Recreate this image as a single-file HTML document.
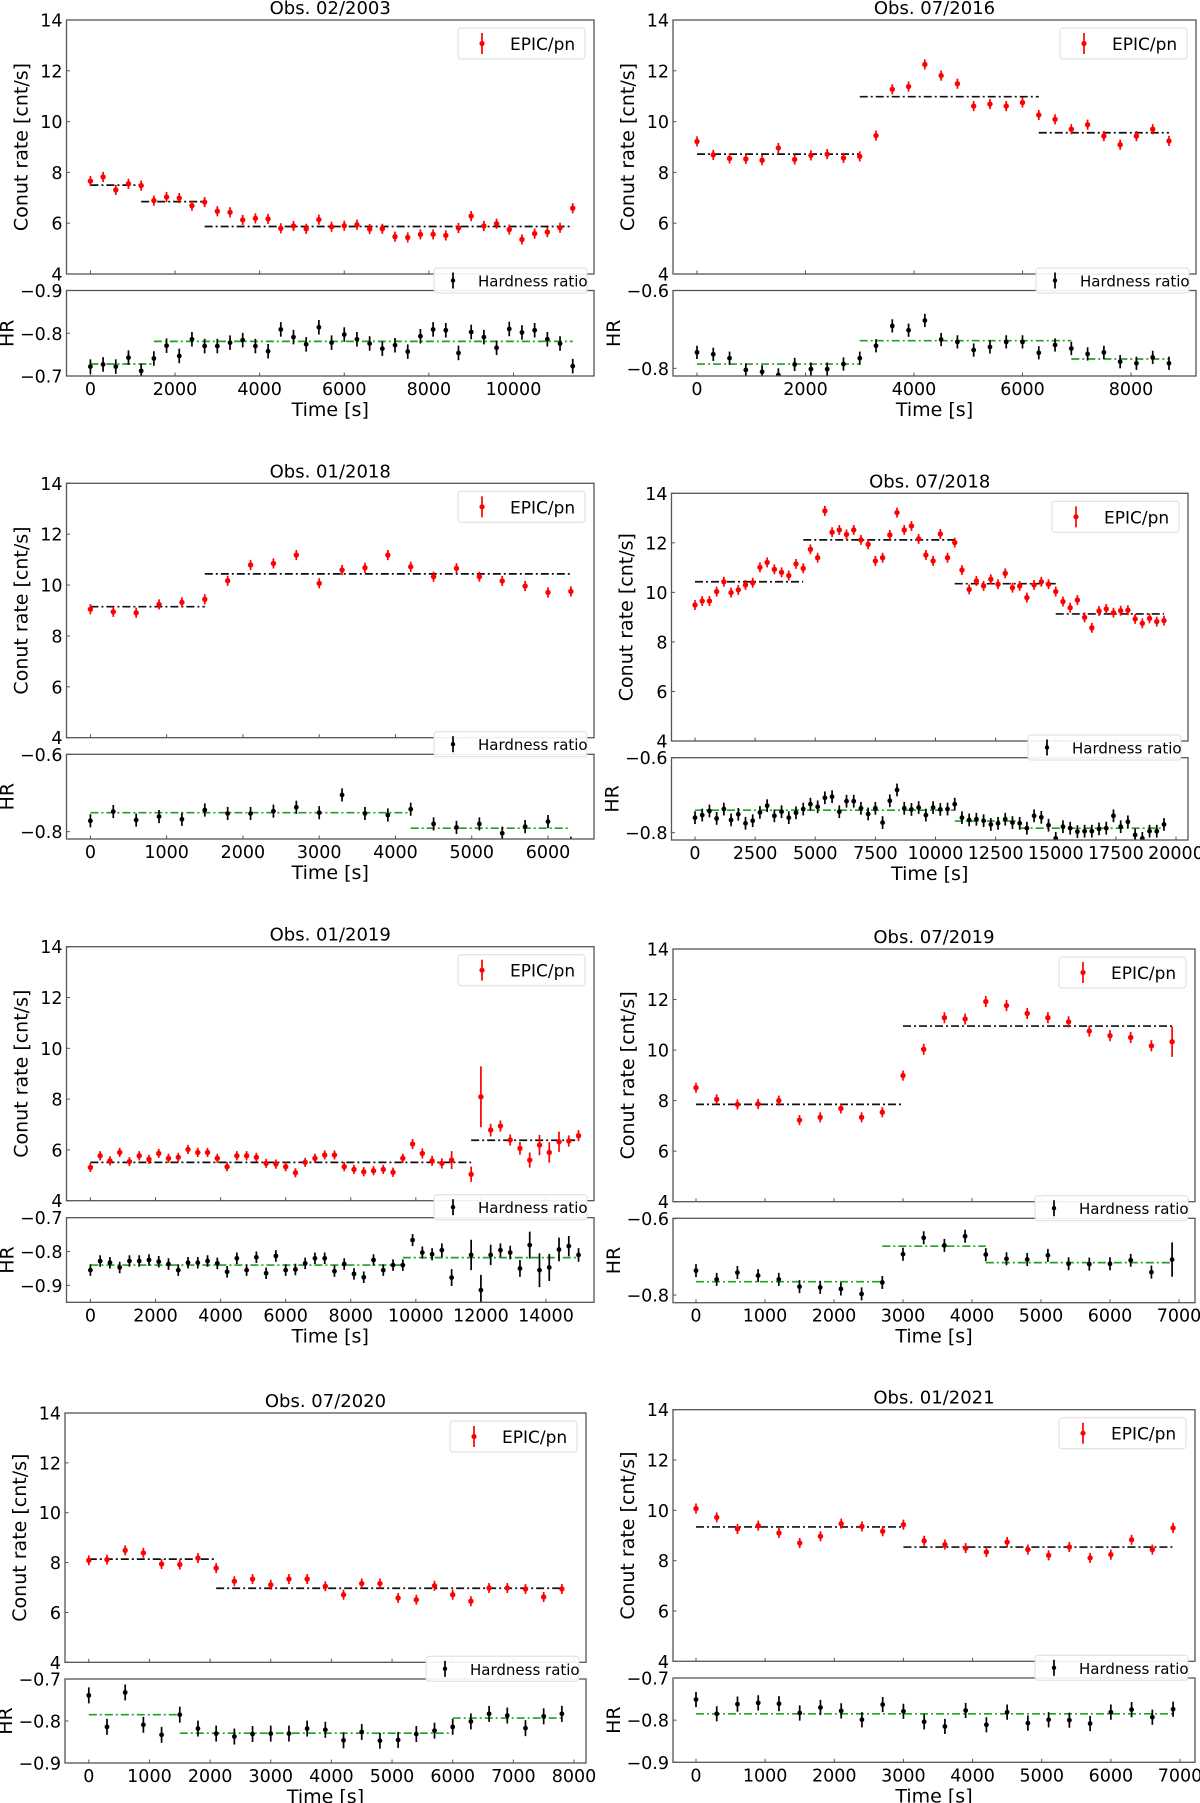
<!DOCTYPE html>
<html><head><meta charset="utf-8"><title>Light curves and hardness ratios</title>
<style>
html,body{margin:0;padding:0;background:#fff;}
svg{display:block;font-family:"DejaVu Sans","Liberation Sans",sans-serif;}
</style></head>
<body>
<svg id="fig" width="1200" height="1803" viewBox="0 0 1200 1803" xmlns="http://www.w3.org/2000/svg"></svg>
<script>
// ---------- shared tick data ----------
const rateTicks = [4,6,8,10,12,14];
const rateTickLabels = ["4","6","8","10","12","14"];

// ---------- Panel 1: Obs. 02/2003 ----------
const p1_time = [0,300,600,900,1200,1500,1800,2100,2400,2700,3000,3300,3600,3900,4200,4500,4800,5100,5400,5700,6000,6300,6600,6900,7200,7500,7800,8100,8400,8700,9000,9300,9600,9900,10200,10500,10800,11100,11400];
const p1_rate = [7.66,7.82,7.31,7.55,7.48,6.89,7.03,6.99,6.69,6.83,6.47,6.43,6.13,6.19,6.17,5.80,5.89,5.78,6.14,5.86,5.90,5.94,5.77,5.78,5.47,5.44,5.56,5.56,5.52,5.81,6.28,5.89,5.98,5.75,5.36,5.59,5.65,5.82,6.59];
const p1_hr = [-0.722,-0.727,-0.722,-0.743,-0.712,-0.741,-0.771,-0.747,-0.786,-0.770,-0.770,-0.778,-0.784,-0.770,-0.758,-0.809,-0.791,-0.774,-0.814,-0.778,-0.797,-0.786,-0.776,-0.764,-0.772,-0.757,-0.793,-0.809,-0.807,-0.754,-0.803,-0.791,-0.766,-0.810,-0.802,-0.807,-0.786,-0.776,-0.723];
const p1_rfStart = [0,1200,2700], p1_rfEnd = [1200,2700,11400], p1_rfVal = [7.5,6.85,5.87];
const p1_hfStart = [0,1500], p1_hfEnd = [1500,11400], p1_hfVal = [-0.728,-0.781];
const p1_xticks = [0,2000,4000,6000,8000,10000];
const p1_xtickLabels = ["0","2000","4000","6000","8000","10000"];
const p1_hrTicks = [-0.9,-0.8,-0.7];
const p1_hrTickLabels = ["\u22120.9","\u22120.8","\u22120.7"];

// ---------- Panel 2: Obs. 07/2016 ----------
const p2_time = [0,300,600,900,1200,1500,1800,2100,2400,2700,3000,3300,3600,3900,4200,4500,4800,5100,5400,5700,6000,6300,6600,6900,7200,7500,7800,8100,8400,8700];
const p2_rate = [9.22,8.69,8.55,8.53,8.48,8.96,8.51,8.67,8.72,8.57,8.63,9.45,11.27,11.38,12.25,11.81,11.49,10.61,10.69,10.61,10.75,10.26,10.09,9.70,9.88,9.43,9.09,9.43,9.70,9.24];
const p2_hr = [-0.759,-0.764,-0.774,-0.804,-0.809,-0.817,-0.790,-0.802,-0.802,-0.789,-0.774,-0.742,-0.691,-0.702,-0.677,-0.726,-0.732,-0.753,-0.745,-0.732,-0.732,-0.760,-0.740,-0.749,-0.763,-0.759,-0.783,-0.787,-0.772,-0.787];
const p2_rfStart = [0,3000,6300], p2_rfEnd = [3000,6300,8700], p2_rfVal = [8.72,10.98,9.56];
const p2_hfStart = [0,3000,6900], p2_hfEnd = [3000,6900,8700], p2_hfVal = [-0.789,-0.729,-0.776];
const p2_xticks = [0,2000,4000,6000,8000];
const p2_xtickLabels = ["0","2000","4000","6000","8000"];
const p2_hrTicks = [-0.6,-0.8];
const p2_hrTickLabels = ["\u22120.6","\u22120.8"];

// ---------- Panel 3: Obs. 01/2018 ----------
const p3_time = [0,300,600,900,1200,1500,1800,2100,2400,2700,3000,3300,3600,3900,4200,4500,4800,5100,5400,5700,6000,6300];
const p3_rate = [9.05,8.95,8.91,9.24,9.32,9.44,10.17,10.79,10.85,11.18,10.07,10.59,10.68,11.18,10.72,10.33,10.66,10.33,10.16,9.96,9.71,9.75];
const p3_hr = [-0.772,-0.748,-0.770,-0.761,-0.768,-0.744,-0.753,-0.753,-0.747,-0.737,-0.751,-0.705,-0.753,-0.757,-0.742,-0.780,-0.789,-0.780,-0.804,-0.787,-0.774,-0.830];
const p3_rfStart = [0,1500], p3_rfEnd = [1500,6300], p3_rfVal = [9.15,10.44];
const p3_hfStart = [0,4200], p3_hfEnd = [4200,6300], p3_hfVal = [-0.751,-0.791];
const p3_xticks = [0,1000,2000,3000,4000,5000,6000];
const p3_xtickLabels = ["0","1000","2000","3000","4000","5000","6000"];
const p3_hrTicks = [-0.6,-0.8];
const p3_hrTickLabels = ["\u22120.6","\u22120.8"];

// ---------- Panel 4: Obs. 07/2018 ----------
const p4_time = [0,300,600,900,1200,1500,1800,2100,2400,2700,3000,3300,3600,3900,4200,4500,4800,5100,5400,5700,6000,6300,6600,6900,7200,7500,7800,8100,8400,8700,9000,9300,9600,9900,10200,10500,10800,11100,11400,11700,12000,12300,12600,12900,13200,13500,13800,14100,14400,14700,15000,15300,15600,15900,16200,16500,16800,17100,17400,17700,18000,18300,18600,18900,19200,19500];
const p4_rate = [9.49,9.65,9.65,10.03,10.43,9.99,10.10,10.30,10.39,11.01,11.21,10.93,10.81,10.68,11.15,10.97,11.74,11.40,13.29,12.43,12.52,12.34,12.52,12.12,11.94,11.27,11.40,12.32,13.22,12.52,12.68,12.16,11.51,11.27,12.36,11.40,12.01,10.90,10.12,10.46,10.26,10.53,10.33,10.77,10.19,10.26,9.79,10.30,10.43,10.33,10.03,9.63,9.38,9.69,8.99,8.57,9.25,9.33,9.18,9.26,9.28,8.93,8.75,8.95,8.82,8.86];
const p4_hr = [-0.760,-0.753,-0.742,-0.762,-0.737,-0.766,-0.751,-0.775,-0.768,-0.746,-0.728,-0.755,-0.744,-0.760,-0.747,-0.737,-0.724,-0.731,-0.707,-0.704,-0.744,-0.716,-0.716,-0.735,-0.750,-0.735,-0.773,-0.715,-0.686,-0.735,-0.738,-0.733,-0.753,-0.733,-0.738,-0.737,-0.724,-0.760,-0.766,-0.764,-0.768,-0.778,-0.775,-0.764,-0.773,-0.775,-0.788,-0.755,-0.759,-0.780,-0.815,-0.784,-0.788,-0.797,-0.796,-0.796,-0.790,-0.788,-0.755,-0.784,-0.771,-0.806,-0.815,-0.796,-0.796,-0.778];
const p4_rfStart = [0,4500,10800,15000], p4_rfEnd = [4500,10800,15000,19500], p4_rfVal = [10.43,12.12,10.35,9.13];
const p4_hfStart = [0,10800,13500], p4_hfEnd = [10800,13500,19500], p4_hfVal = [-0.740,-0.769,-0.788];
const p4_xticks = [0,2500,5000,7500,10000,12500,15000,17500,20000];
const p4_xtickLabels = ["0","2500","5000","7500","10000","12500","15000","17500","20000"];
const p4_hrTicks = [-0.6,-0.8];
const p4_hrTickLabels = ["\u22120.6","\u22120.8"];

// ---------- Panel 5: Obs. 01/2019 ----------
const p5_time = [0,300,600,900,1200,1500,1800,2100,2400,2700,3000,3300,3600,3900,4200,4500,4800,5100,5400,5700,6000,6300,6600,6900,7200,7500,7800,8100,8400,8700,9000,9300,9600,9900,10200,10500,10800,11100,11700,12000,12300,12600,12900,13200,13500,13800,14100,14400,14700,15000];
const p5_rate = [5.31,5.77,5.57,5.90,5.54,5.77,5.63,5.86,5.67,5.71,6.02,5.90,5.90,5.67,5.34,5.77,5.77,5.71,5.47,5.44,5.34,5.10,5.51,5.67,5.80,5.80,5.34,5.23,5.14,5.18,5.23,5.12,5.67,6.23,5.86,5.57,5.47,5.60,5.04,8.09,6.78,6.94,6.39,6.06,5.60,6.19,5.90,6.32,6.35,6.56];
const p5_rateErr = [0.18,0.18,0.18,0.18,0.18,0.18,0.18,0.18,0.18,0.18,0.18,0.18,0.18,0.18,0.18,0.18,0.18,0.18,0.18,0.18,0.18,0.18,0.18,0.18,0.18,0.18,0.18,0.18,0.18,0.18,0.18,0.18,0.18,0.2,0.2,0.2,0.2,0.35,0.3,1.2,0.25,0.22,0.22,0.25,0.3,0.4,0.4,0.4,0.22,0.22];
const p5_hr = [-0.855,-0.828,-0.833,-0.847,-0.828,-0.828,-0.825,-0.830,-0.837,-0.855,-0.833,-0.833,-0.828,-0.835,-0.860,-0.820,-0.855,-0.817,-0.864,-0.813,-0.855,-0.853,-0.835,-0.820,-0.820,-0.858,-0.837,-0.866,-0.876,-0.825,-0.855,-0.840,-0.840,-0.766,-0.803,-0.808,-0.796,-0.877,-0.810,-0.914,-0.810,-0.796,-0.803,-0.850,-0.781,-0.855,-0.847,-0.794,-0.784,-0.810];
const p5_hrErr = [0.017,0.017,0.017,0.017,0.017,0.017,0.017,0.017,0.017,0.017,0.017,0.017,0.017,0.017,0.017,0.017,0.017,0.017,0.017,0.017,0.017,0.017,0.017,0.017,0.017,0.017,0.017,0.017,0.017,0.017,0.017,0.017,0.017,0.018,0.018,0.018,0.02,0.025,0.045,0.045,0.03,0.02,0.02,0.025,0.04,0.05,0.04,0.035,0.03,0.02];
const p5_rfStart = [0,11700], p5_rfEnd = [11700,15000], p5_rfVal = [5.51,6.38];
const p5_hfStart = [0,9600], p5_hfEnd = [9600,15000], p5_hfVal = [-0.840,-0.818];
const p5_xticks = [0,2000,4000,6000,8000,10000,12000,14000];
const p5_xtickLabels = ["0","2000","4000","6000","8000","10000","12000","14000"];
const p5_hrTicks = [-0.7,-0.8,-0.9];
const p5_hrTickLabels = ["\u22120.7","\u22120.8","\u22120.9"];

// ---------- Panel 6: Obs. 07/2019 ----------
const p6_time = [0,300,600,900,1200,1500,1800,2100,2400,2700,3000,3300,3600,3900,4200,4500,4800,5100,5400,5700,6000,6300,6600,6900];
const p6_rate = [8.51,8.05,7.85,7.87,8.00,7.23,7.34,7.69,7.34,7.54,8.99,10.03,11.28,11.23,11.92,11.76,11.45,11.28,11.12,10.75,10.57,10.50,10.17,10.33];
const p6_rateErr = [0.2,0.2,0.2,0.2,0.2,0.2,0.2,0.2,0.2,0.2,0.2,0.22,0.22,0.22,0.22,0.22,0.22,0.22,0.22,0.22,0.22,0.22,0.22,0.6];
const p6_hr = [-0.736,-0.759,-0.741,-0.749,-0.759,-0.778,-0.780,-0.784,-0.797,-0.767,-0.693,-0.650,-0.670,-0.646,-0.694,-0.705,-0.707,-0.696,-0.718,-0.719,-0.718,-0.709,-0.740,-0.707];
const p6_hrErr = [0.017,0.017,0.017,0.017,0.017,0.017,0.017,0.017,0.017,0.017,0.017,0.017,0.017,0.017,0.017,0.017,0.017,0.017,0.017,0.017,0.017,0.017,0.017,0.045];
const p6_rfStart = [0,3000], p6_rfEnd = [3000,6900], p6_rfVal = [7.85,10.95];
const p6_hfStart = [0,2700,4200], p6_hfEnd = [2700,4200,6900], p6_hfVal = [-0.765,-0.672,-0.715];
const p6_xticks = [0,1000,2000,3000,4000,5000,6000,7000];
const p6_xtickLabels = ["0","1000","2000","3000","4000","5000","6000","7000"];
const p6_hrTicks = [-0.6,-0.8];
const p6_hrTickLabels = ["\u22120.6","\u22120.8"];

// ---------- Panel 7: Obs. 07/2020 ----------
const p7_time = [0,300,600,900,1200,1500,1800,2100,2400,2700,3000,3300,3600,3900,4200,4500,4800,5100,5400,5700,6000,6300,6600,6900,7200,7500,7800];
const p7_rate = [8.09,8.12,8.49,8.39,7.94,7.92,8.18,7.78,7.25,7.34,7.11,7.34,7.34,7.05,6.71,7.16,7.16,6.58,6.51,7.07,6.71,6.45,6.98,6.98,6.94,6.62,6.94];
const p7_hr = [-0.739,-0.814,-0.732,-0.809,-0.833,-0.785,-0.818,-0.830,-0.837,-0.831,-0.830,-0.830,-0.818,-0.821,-0.846,-0.826,-0.847,-0.845,-0.831,-0.823,-0.814,-0.801,-0.783,-0.787,-0.817,-0.789,-0.783];
const p7_rfStart = [0,2100], p7_rfEnd = [2100,7800], p7_rfVal = [8.14,6.97];
const p7_hfStart = [0,1500,6000], p7_hfEnd = [1500,6000,7800], p7_hfVal = [-0.785,-0.829,-0.793];
const p7_xticks = [0,1000,2000,3000,4000,5000,6000,7000,8000];
const p7_xtickLabels = ["0","1000","2000","3000","4000","5000","6000","7000","8000"];
const p7_hrTicks = [-0.7,-0.8,-0.9];
const p7_hrTickLabels = ["\u22120.7","\u22120.8","\u22120.9"];

// ---------- Panel 8: Obs. 01/2021 ----------
const p8_time = [0,300,600,900,1200,1500,1800,2100,2400,2700,3000,3300,3600,3900,4200,4500,4800,5100,5400,5700,6000,6300,6600,6900];
const p8_rate = [10.07,9.72,9.26,9.39,9.10,8.70,8.97,9.47,9.36,9.17,9.43,8.79,8.64,8.50,8.34,8.74,8.44,8.21,8.54,8.11,8.24,8.83,8.44,9.30];
const p8_hr = [-0.751,-0.785,-0.762,-0.759,-0.761,-0.783,-0.770,-0.778,-0.799,-0.763,-0.779,-0.804,-0.815,-0.777,-0.811,-0.781,-0.807,-0.799,-0.800,-0.808,-0.781,-0.775,-0.793,-0.774];
const p8_rfStart = [0,3000], p8_rfEnd = [3000,6900], p8_rfVal = [9.34,8.54];
const p8_hfStart = [0], p8_hfEnd = [6900], p8_hfVal = [-0.785];
const p8_xticks = [0,1000,2000,3000,4000,5000,6000,7000];
const p8_xtickLabels = ["0","1000","2000","3000","4000","5000","6000","7000"];
const p8_hrTicks = [-0.7,-0.8,-0.9];
const p8_hrTickLabels = ["\u22120.7","\u22120.8","\u22120.9"];

// ---------- layout ----------
const NS = 'http://www.w3.org/2000/svg';
const svg = document.getElementById('fig');
function mk(tag, attrs, parent){
  const e = document.createElementNS(NS, tag);
  for (const k in attrs) e.setAttribute(k, attrs[k]);
  (parent || svg).appendChild(e);
  return e;
}
const FRAME = '#555';

const panels = [
 {id:'obs-02-2003', title:'Obs. 02/2003', L:66.5, R:594, rt:20, rb:274, ht:290.5, hb:376, px0:90.4, pxRef:513.5, tRef:10000, hTop:-0.9, hBot:-0.7,
  time:p1_time, rate:p1_rate, hr:p1_hr, rfS:p1_rfStart, rfE:p1_rfEnd, rfV:p1_rfVal, hfS:p1_hfStart, hfE:p1_hfEnd, hfV:p1_hfVal, xt:p1_xticks, xtl:p1_xtickLabels, ht_:p1_hrTicks, htl:p1_hrTickLabels},
 {id:'obs-07-2016', title:'Obs. 07/2016', L:673, R:1196, rt:20, rb:274, ht:290.5, hb:376, px0:697, pxRef:1131, tRef:8000, hTop:-0.6, hBot:-0.8197,
  time:p2_time, rate:p2_rate, hr:p2_hr, rfS:p2_rfStart, rfE:p2_rfEnd, rfV:p2_rfVal, hfS:p2_hfStart, hfE:p2_hfEnd, hfV:p2_hfVal, xt:p2_xticks, xtl:p2_xtickLabels, ht_:p2_hrTicks, htl:p2_hrTickLabels},
 {id:'obs-01-2018', title:'Obs. 01/2018', L:66.5, R:594, rt:483.3, rb:737.7, ht:754.3, hb:839, px0:90.4, pxRef:548, tRef:6000, hTop:-0.6, hBot:-0.819,
  time:p3_time, rate:p3_rate, hr:p3_hr, rfS:p3_rfStart, rfE:p3_rfEnd, rfV:p3_rfVal, hfS:p3_hfStart, hfE:p3_hfEnd, hfV:p3_hfVal, xt:p3_xticks, xtl:p3_xtickLabels, ht_:p3_hrTicks, htl:p3_hrTickLabels},
 {id:'obs-07-2018', title:'Obs. 07/2018', L:671.5, R:1188, rt:493.3, rb:741, ht:757.7, hb:840, px0:695, pxRef:1176, tRef:20000, hTop:-0.6, hBot:-0.8195,
  time:p4_time, rate:p4_rate, hr:p4_hr, rfS:p4_rfStart, rfE:p4_rfEnd, rfV:p4_rfVal, hfS:p4_hfStart, hfE:p4_hfEnd, hfV:p4_hfVal, xt:p4_xticks, xtl:p4_xtickLabels, ht_:p4_hrTicks, htl:p4_hrTickLabels},
 {id:'obs-01-2019', title:'Obs. 01/2019', L:66.5, R:594, rt:946.7, rb:1200.7, ht:1217.7, hb:1302.3, px0:90.4, pxRef:546, tRef:14000, hTop:-0.7, hBot:-0.950,
  time:p5_time, rate:p5_rate, rateErr:p5_rateErr, hr:p5_hr, hrErr:p5_hrErr, rfS:p5_rfStart, rfE:p5_rfEnd, rfV:p5_rfVal, hfS:p5_hfStart, hfE:p5_hfEnd, hfV:p5_hfVal, xt:p5_xticks, xtl:p5_xtickLabels, ht_:p5_hrTicks, htl:p5_hrTickLabels},
 {id:'obs-07-2019', title:'Obs. 07/2019', L:673, R:1195, rt:949, rb:1201.7, ht:1218.3, hb:1302.7, px0:696, pxRef:1179, tRef:7000, hTop:-0.599, hBot:-0.820,
  time:p6_time, rate:p6_rate, rateErr:p6_rateErr, hr:p6_hr, hrErr:p6_hrErr, rfS:p6_rfStart, rfE:p6_rfEnd, rfV:p6_rfVal, hfS:p6_hfStart, hfE:p6_hfEnd, hfV:p6_hfVal, xt:p6_xticks, xtl:p6_xtickLabels, ht_:p6_hrTicks, htl:p6_hrTickLabels},
 {id:'obs-07-2020', title:'Obs. 07/2020', L:65, R:586, rt:1413, rb:1662.3, ht:1679, hb:1763, px0:88.8, pxRef:574, tRef:8000, hTop:-0.7, hBot:-0.9,
  time:p7_time, rate:p7_rate, hr:p7_hr, hrDef:0.019, rfS:p7_rfStart, rfE:p7_rfEnd, rfV:p7_rfVal, hfS:p7_hfStart, hfE:p7_hfEnd, hfV:p7_hfVal, xt:p7_xticks, xtl:p7_xtickLabels, ht_:p7_hrTicks, htl:p7_hrTickLabels},
 {id:'obs-01-2021', title:'Obs. 01/2021', L:673, R:1195, rt:1409.7, rb:1661.3, ht:1678, hb:1762.3, px0:696, pxRef:1180, tRef:7000, hTop:-0.7, hBot:-0.9,
  time:p8_time, rate:p8_rate, hr:p8_hr, hrDef:0.018, rfS:p8_rfStart, rfE:p8_rfEnd, rfV:p8_rfVal, hfS:p8_hfStart, hfE:p8_hfEnd, hfV:p8_hfVal, xt:p8_xticks, xtl:p8_xtickLabels, ht_:p8_hrTicks, htl:p8_hrTickLabels}
];

function txt(parent, x, y, s, size, anchor, extra){
  const t = mk('text', {x:x, y:y, 'font-size':size, 'text-anchor':anchor||'start', fill:'#000'}, parent);
  if (extra) for (const k in extra) t.setAttribute(k, extra[k]);
  t.textContent = s;
  return t;
}

function errPoint(parent, x, y, yTop, yBot, color, r){
  mk('line', {x1:x, x2:x, y1:yTop, y2:yBot, stroke:color, 'stroke-width':1.7}, parent);
  mk('circle', {cx:x, cy:y, r:r, fill:color}, parent);
}

panels.forEach((P, pi) => {
  const g = mk('g', {});
  
  

  const xs = t => P.px0 + t * (P.pxRef - P.px0) / P.tRef;
  const yr = v => P.rt + (14 - v) * (P.rb - P.rt) / 10;
  const yh = v => P.ht + (v - P.hTop) * (P.hb - P.ht) / (P.hBot - P.hTop);

  const defs = mk('defs', {}, g);
  const cr = mk('clipPath', {id:'cr' + pi}, defs);
  mk('rect', {x:P.L, y:P.rt, width:P.R - P.L, height:P.rb - P.rt}, cr);
  const ch = mk('clipPath', {id:'ch' + pi}, defs);
  mk('rect', {x:P.L, y:P.ht, width:P.R - P.L, height:P.hb - P.ht}, ch);

  const title = txt(g, (P.L + P.R) / 2, P.rt - 6, P.title, 18, 'middle');
  
  

  const rateAx = mk('g', {}, g);
  
  
  rateTicks.forEach((v, i) => {
    const y = yr(v);
    mk('line', {x1:P.L, x2:P.L + 3.5, y1:y, y2:y, stroke:FRAME, 'stroke-width':1}, rateAx);
    const lab = txt(rateAx, P.L - 4, y + 6.5, rateTickLabels[i], 17.5, 'end');
    
    
  });
  P.xt.forEach(t => {
    const x = xs(t);
    mk('line', {x1:x, x2:x, y1:P.rb, y2:P.rb - 3.5, stroke:FRAME, 'stroke-width':1}, rateAx);
  });
  const yl = txt(rateAx, 0, 0, 'Conut rate [cnt/s]', 19, 'middle', {transform:'translate(' + (P.L - 39) + ',' + ((P.rt + P.rb) / 2) + ') rotate(-90)'});
  
  

  const rf = mk('g', {'clip-path':'url(#cr' + pi + ')'}, g);
  
  
  P.rfV.forEach((v, i) => {
    mk('line', {x1:xs(P.rfS[i]), x2:xs(P.rfE[i]), y1:yr(v), y2:yr(v), stroke:'#111', 'stroke-width':1.7, 'stroke-dasharray':'8,3,2,3'}, rf);
  });
  const rp = mk('g', {'clip-path':'url(#cr' + pi + ')'}, g);
  
  
  P.rate.forEach((v, i) => {
    const e = P.rateErr ? P.rateErr[i] : 0.2;
    errPoint(rp, xs(P.time[i]), yr(v), yr(v + e), yr(v - e), '#ff0000', 2.7);
  });
  mk('rect', {x:P.L, y:P.rt, width:P.R - P.L, height:P.rb - P.rt, fill:'none', stroke:FRAME, 'stroke-width':1.3}, g);

  const hrAx = mk('g', {}, g);
  
  
  P.ht_.forEach((v, i) => {
    const y = yh(v);
    mk('line', {x1:P.L, x2:P.L + 3.5, y1:y, y2:y, stroke:FRAME, 'stroke-width':1}, hrAx);
    const lab = txt(hrAx, P.L - 4, y + 6.5, P.htl[i], 17.5, 'end');
    
    
  });
  P.xt.forEach((t, i) => {
    const x = xs(t);
    mk('line', {x1:x, x2:x, y1:P.hb, y2:P.hb - 3.5, stroke:FRAME, 'stroke-width':1}, hrAx);
    const lab = txt(hrAx, x, P.hb + 19, P.xtl[i], 17.5, 'middle');
    
    
  });
  const hl = txt(hrAx, 0, 0, 'HR', 19, 'middle', {transform:'translate(' + (P.L - 53) + ',' + ((P.ht + P.hb) / 2) + ') rotate(-90)'});
  
  
  const xl = txt(hrAx, (P.L + P.R) / 2, P.hb + 40, 'Time [s]', 19, 'middle');
  
  

  const hf = mk('g', {'clip-path':'url(#ch' + pi + ')'}, g);
  
  
  P.hfV.forEach((v, i) => {
    mk('line', {x1:xs(P.hfS[i]), x2:xs(P.hfE[i]), y1:yh(v), y2:yh(v), stroke:'#22a022', 'stroke-width':1.7, 'stroke-dasharray':'8,3,2,3'}, hf);
  });
  const hp = mk('g', {'clip-path':'url(#ch' + pi + ')'}, g);
  
  
  P.hr.forEach((v, i) => {
    const e = P.hrErr ? P.hrErr[i] : (P.hrDef || 0.017);
    errPoint(hp, xs(P.time[i]), yh(v), yh(v - e), yh(v + e), '#000', 2.4);
  });
  mk('rect', {x:P.L, y:P.ht, width:P.R - P.L, height:P.hb - P.ht, fill:'none', stroke:FRAME, 'stroke-width':1.3}, g);

  const lg1 = mk('g', {}, g);
  
  
  mk('rect', {x:P.R - 136, y:P.rt + 8, width:127, height:31, rx:3, fill:'#fff', 'fill-opacity':0.85, stroke:'#ddd', 'stroke-width':1}, lg1);
  errPoint(lg1, P.R - 112, P.rt + 23.5, P.rt + 13, P.rt + 34, '#ff0000', 2.6);
  txt(lg1, P.R - 84, P.rt + 30, 'EPIC/pn', 17, 'start');

  const lg2 = mk('g', {}, g);
  
  
  mk('rect', {x:P.R - 160, y:P.rb - 6, width:153, height:25, rx:3, fill:'#fff', 'fill-opacity':0.9, stroke:'#ddd', 'stroke-width':1}, lg2);
  errPoint(lg2, P.R - 141, P.rb + 6.5, P.rb - 1.5, P.rb + 14.5, '#000', 2.2);
  txt(lg2, P.R - 116, P.rb + 12.5, 'Hardness ratio', 15, 'start');
});
</script>
</body></html>
